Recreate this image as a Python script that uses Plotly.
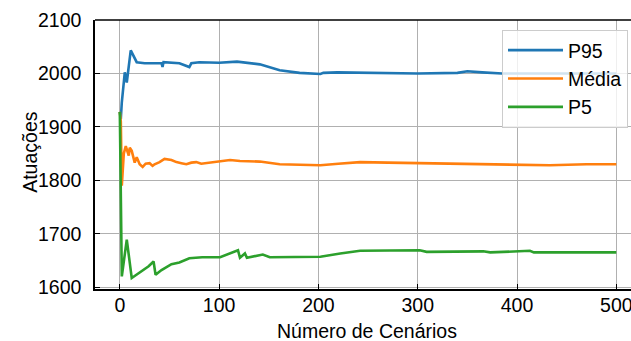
import plotly.graph_objects as go

# Number of scenarios (x) and running statistics
p95_x = [0, 1, 2, 5, 7, 11, 17, 25, 42, 43, 44, 60, 70, 72, 80, 100, 118, 122, 141, 161, 181, 202, 205, 219, 250, 300, 340, 350, 365, 385, 420, 460, 500]
p95_y = [1928, 1915, 1946, 2002, 1983, 2043, 2021, 2019, 2019, 2012, 2021, 2019, 2012, 2019, 2021, 2020, 2022, 2021, 2017, 2006, 2001, 1999, 2001, 2002, 2001, 2000, 2001, 2004, 2002, 2000, 2000, 2000, 2000]

media_x = [0, 1, 2, 4, 6, 9, 10, 12, 15, 17, 20, 23, 26, 30, 33, 35, 40, 45, 52, 57, 62, 67, 72, 77, 82, 87, 95, 101, 111, 121, 141, 161, 180, 202, 220, 242, 270, 302, 350, 403, 433, 470, 500]
media_y = [1928, 1910, 1790, 1850, 1864, 1846, 1861, 1855, 1833, 1843, 1830, 1825, 1831, 1832, 1827, 1830, 1834, 1840, 1838, 1834, 1832, 1830, 1833, 1834, 1831, 1832, 1834, 1835, 1838, 1836, 1835, 1830, 1829, 1828, 1831, 1834, 1833, 1832, 1831, 1830, 1828, 1830, 1830]

p5_x = [0, 2, 7, 12, 29, 34, 36, 42, 52, 60, 70, 83, 101, 110, 119, 121, 126, 128, 144, 151, 202, 222, 242, 302, 309, 366, 373, 413, 417, 500]
p5_y = [1928, 1620, 1689, 1617, 1639, 1648, 1623, 1632, 1643, 1646, 1654, 1656, 1656, 1662, 1669, 1655, 1663, 1655, 1661, 1656, 1657, 1663, 1668, 1669, 1666, 1667, 1665, 1668, 1665, 1665]

y_ticks = [1600, 1700, 1800, 1900, 2000, 2100]
x_ticks = [0, 100, 200, 300, 400, 500]

FONT = "Liberation Sans, Arial, sans-serif"
FS = 19.5

fig = go.Figure()
fig.add_trace(go.Scatter(x=p95_x, y=p95_y, mode="lines", name="P95",
                         line=dict(color="#1f77b4", width=2.6)))
fig.add_trace(go.Scatter(x=media_x, y=media_y, mode="lines", name="Média",
                         line=dict(color="#ff7f0e", width=2.6)))
fig.add_trace(go.Scatter(x=p5_x, y=p5_y, mode="lines", name="P5",
                         line=dict(color="#2ca02c", width=2.6)))

fig.update_layout(
    width=631, height=341,
    margin=dict(l=95, r=0, t=20, b=52, autoexpand=False),
    paper_bgcolor="white", plot_bgcolor="white",
    font=dict(family=FONT, size=FS, color="black"),
    showlegend=True,
    legend=dict(x=(502 - 95) / 536, y=0.963, xanchor="left", yanchor="top",
                bgcolor="rgba(255,255,255,0.8)", bordercolor="#cccccc", borderwidth=1,
                font=dict(family=FONT, size=FS, color="black"),
                itemwidth=55, tracegroupgap=0),
    shapes=[dict(type="line", xref="paper", yref="paper", x0=0, x1=1, y0=1, y1=1,
                 line=dict(color="black", width=1.5))],
    annotations=[
        dict(text="Atuações", xref="paper", yref="paper",
             x=(30 - 95) / 536, y=0.51, xanchor="center", yanchor="middle",
             textangle=-90, showarrow=False,
             font=dict(family=FONT, size=FS, color="black")),
        dict(text="Número de Cenários", xref="paper", yref="paper",
             x=(367 - 95) / 536, y=-(331 - 289) / 269, xanchor="center", yanchor="middle",
             showarrow=False, font=dict(family=FONT, size=FS, color="black")),
    ],
)
fig.update_xaxes(range=[-25, 514.8], tickvals=x_ticks, ticktext=[str(v) for v in x_ticks],
                 showgrid=True, gridcolor="#b0b0b0", gridwidth=1,
                 showline=True, linecolor="black", linewidth=1.5, mirror=False,
                 ticks="inside", ticklen=5, tickwidth=1.2, tickcolor="black",
                 ticklabelstandoff=-2, ticklabeloverflow="allow", zeroline=False,
                 automargin=False)
fig.update_yaxes(range=[1596.5, 2100], tickvals=y_ticks, ticktext=[str(v) for v in y_ticks],
                 showgrid=True, gridcolor="#b0b0b0", gridwidth=1,
                 showline=True, linecolor="black", linewidth=1.5, mirror=False,
                 ticks="inside", ticklen=5, tickwidth=1.2, tickcolor="black",
                 ticklabelstandoff=8, ticklabeloverflow="allow", zeroline=False,
                 automargin=False)

fig.write_html("out.html")
